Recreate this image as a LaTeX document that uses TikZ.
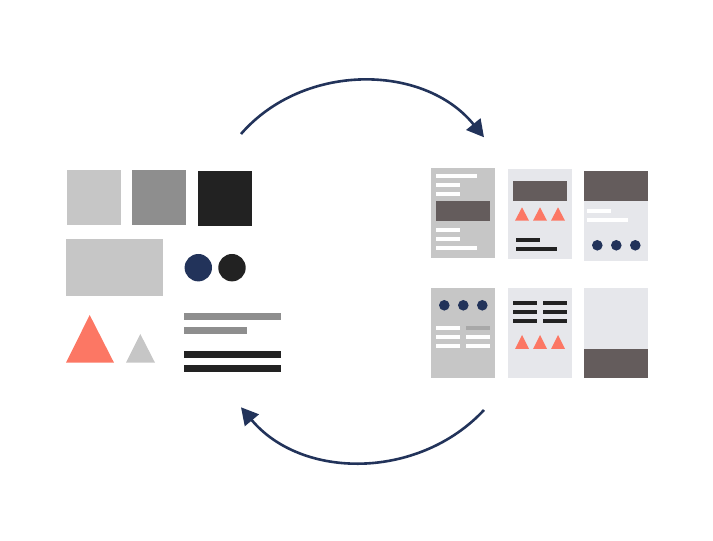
\documentclass[tikz,border=0pt]{standalone}
\usepackage{tikz}
\usetikzlibrary{arrows.meta}
\definecolor{lgray}{HTML}{C6C6C6}
\definecolor{mgray}{HTML}{8E8E8E}
\definecolor{tgray}{HTML}{A8A8A8}
\definecolor{ink}{HTML}{222222}
\definecolor{navy}{HTML}{22335A}
\definecolor{coral}{HTML}{FC7764}
\definecolor{pale}{HTML}{E6E7EB}
\definecolor{taupe}{HTML}{645C5C}
\begin{document}
\begin{tikzpicture}[x=1pt, y=1pt, blk/.style={rectangle, inner sep=0pt, anchor=north west}, sz/.style 2 args={minimum width=#1pt, minimum height=#2pt}, dot/.style={circle, inner sep=0pt, minimum size=#1pt}, cyc/.style={-{Triangle[length=17pt, width=18pt]}, line width=2.6pt, navy}]
                \useasboundingbox (0,0) rectangle (713,541);
                % parts
                \node[blk, sz={54}{55}, fill=lgray] (sqA) at (67,371) {};
                \node[blk, sz={54}{55}, fill=mgray] (sqB) at (132,371) {};
                \node[blk, sz={54}{55}, fill=ink] (sqC) at (198,370) {};
                \node[blk, sz={97}{57}, fill=lgray] (wide) at (66,302) {};
                \node[dot=27.4, fill=navy] (cA) at (198.3,273.3) {};
                \node[dot=27.4, fill=ink] (cB) at (232,273.3) {};
                \fill[coral] (66,178.3) -- (114,178.3) -- (89.7,226) -- cycle;
                \fill[lgray] (126,178.3) -- (155,178.3) -- (140.3,207) -- cycle;
                \node[blk, sz={97}{7}, fill=mgray] (gA) at (184,228) {};
                \node[blk, sz={63}{7}, fill=mgray] (gB) at (184,214) {};
                \node[blk, sz={97}{7}, fill=ink] (kA) at (184,190) {};
                \node[blk, sz={97}{7}, fill=ink] (kB) at (184,176) {};
                % pages, top row
                \node[blk, sz={64}{90}, fill=lgray] (pA) at (431,373) {};
                \node[blk, sz={41}{4}, fill=white] (pA1) at (436,367.3) {};
                \node[blk, sz={24}{4}, fill=white] (pA2) at (436,358) {};
                \node[blk, sz={24}{4}, fill=white] (pA3) at (436,349) {};
                \node[blk, sz={54}{20}, fill=taupe] (pA4) at (436,340) {};
                \node[blk, sz={24}{4}, fill=white] (pA5) at (436,313) {};
                \node[blk, sz={24}{4}, fill=white] (pA6) at (436,304) {};
                \node[blk, sz={41}{4}, fill=white] (pA7) at (436,295) {};
                \node[blk, sz={64}{90}, fill=pale] (pB) at (508,372) {};
                \node[blk, sz={54}{20}, fill=taupe] (pB1) at (513,360) {};
                \fill[coral] (515,320.3) -- (529,320.3) -- (522,333.7) -- cycle;
                \fill[coral] (533,320.3) -- (547,320.3) -- (540,333.7) -- cycle;
                \fill[coral] (551,320.3) -- (565,320.3) -- (558,333.7) -- cycle;
                \node[blk, sz={24}{4}, fill=ink] (pB2) at (516,303) {};
                \node[blk, sz={41}{4}, fill=ink] (pB3) at (516,294) {};
                \node[blk, sz={64}{90}, fill=pale] (pC) at (584,370) {};
                \node[blk, sz={64}{30}, fill=taupe] (pC1) at (584,370) {};
                \node[blk, sz={24}{4}, fill=white] (pC2) at (587,332) {};
                \node[blk, sz={41}{4}, fill=white] (pC3) at (587,323) {};
                \node[dot=10.6, fill=navy] (pC4) at (597.3,295.7) {};
                \node[dot=10.6, fill=navy] (pC5) at (616.3,295.7) {};
                \node[dot=10.6, fill=navy] (pC6) at (635.3,295.7) {};
                % pages, bottom row
                \node[blk, sz={64}{90}, fill=lgray] (pD) at (431,253) {};
                \node[dot=10.6, fill=navy] (pD1) at (444.3,235.7) {};
                \node[dot=10.6, fill=navy] (pD2) at (463.3,235.7) {};
                \node[dot=10.6, fill=navy] (pD3) at (482.3,235.7) {};
                \node[blk, sz={24}{4}, fill=white] (pD4) at (436,215) {};
                \node[blk, sz={24}{4}, fill=white] (pD5) at (436,206) {};
                \node[blk, sz={24}{4}, fill=white] (pD6) at (436,197) {};
                \node[blk, sz={24}{4}, fill=tgray] (pD7) at (466,215) {};
                \node[blk, sz={24}{4}, fill=white] (pD8) at (466,206) {};
                \node[blk, sz={24}{4}, fill=white] (pD9) at (466,197) {};
                \node[blk, sz={64}{90}, fill=pale] (pE) at (508,253) {};
                \node[blk, sz={24}{4}, fill=ink] (pE1) at (513,240) {};
                \node[blk, sz={24}{4}, fill=ink] (pE2) at (513,231) {};
                \node[blk, sz={24}{4}, fill=ink] (pE3) at (513,222) {};
                \node[blk, sz={24}{4}, fill=ink] (pE4) at (543,240) {};
                \node[blk, sz={24}{4}, fill=ink] (pE5) at (543,231) {};
                \node[blk, sz={24}{4}, fill=ink] (pE6) at (543,222) {};
                \fill[coral] (515,192) -- (529,192) -- (522,206) -- cycle;
                \fill[coral] (533,192) -- (547,192) -- (540,206) -- cycle;
                \fill[coral] (551,192) -- (565,192) -- (558,206) -- cycle;
                \node[blk, sz={64}{90}, fill=pale] (pF) at (584,253) {};
                \node[blk, sz={64}{29}, fill=taupe] (pF1) at (584,192) {};
                % cycle arrows
                \coordinate (tS) at (241,407);
                \coordinate (tE) at (484,403.7);
                \coordinate (bS) at (484,131);
                \coordinate (bE) at (241,133.7);
                \draw [cyc] (tS) to[out=49, in=129] (tE);
                \draw [cyc] (bS) to[out=227, in=310] (bE);
            \end{tikzpicture}
\end{document}
